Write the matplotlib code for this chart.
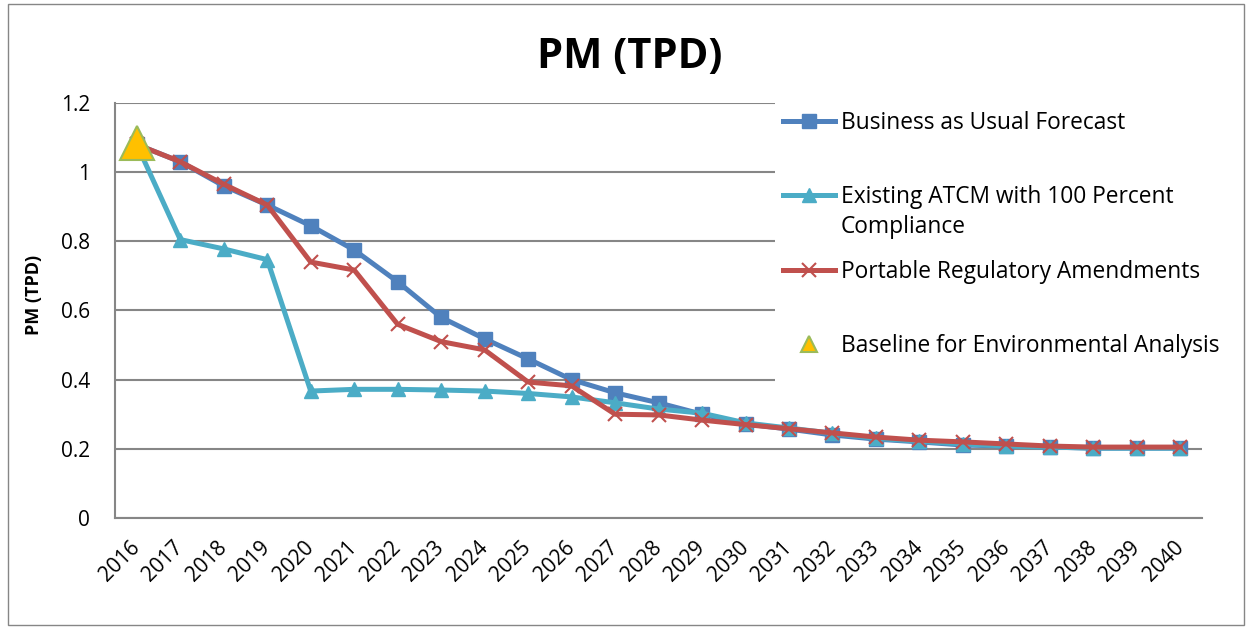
import matplotlib.pyplot as plt
from matplotlib.patches import Rectangle
import numpy as np

plt.rcParams['font.family'] = ['Open Sans', 'DejaVu Sans']

# --- Data ---
years = [str(y) for y in range(2016, 2041)]

bau = [1.08, 1.03, 0.96, 0.905, 0.845, 0.775, 0.683, 0.58, 0.518, 0.46,
       0.40, 0.362, 0.333, 0.30, 0.272, 0.257, 0.24, 0.228, 0.22, 0.211,
       0.208, 0.205, 0.202, 0.202, 0.202]
atcm = [1.08, 0.805, 0.778, 0.747, 0.367, 0.372, 0.372, 0.37, 0.367, 0.36,
        0.35, 0.333, 0.315, 0.303, 0.275, 0.26, 0.245, 0.23, 0.222, 0.214,
        0.208, 0.205, 0.202, 0.202, 0.202]
pra = [1.08, 1.03, 0.965, 0.905, 0.74, 0.717, 0.56, 0.51, 0.486, 0.393,
       0.382, 0.30, 0.298, 0.283, 0.27, 0.258, 0.246, 0.234, 0.225, 0.22,
       0.214, 0.208, 0.205, 0.205, 0.205]
baseline_year = '2016'
baseline_value = 1.085

labels = ['Business as Usual Forecast',
          'Existing ATCM with 100 Percent',
          'Portable Regulatory Amendments',
          'Baseline for Environmental Analysis']
label_wrap = 'Compliance'   # second line of the ATCM legend entry

x = np.arange(len(years))

fig = plt.figure(figsize=(12.52, 6.29), dpi=100)
ax = fig.add_axes([0.0919, 0.1765, 0.8682, 0.6598])

ax.plot(x, bau, color='#4F81BD', lw=3.6, marker='s', ms=10, label=labels[0], zorder=3)
ax.plot(x, atcm, color='#4BACC6', lw=3.6, marker='^', ms=10, label=labels[1], zorder=4)
ax.plot(x, pra, color='#C0504D', lw=3.6, marker='x', ms=10, mew=1.5, label=labels[2], zorder=5)
ax.plot([years.index(baseline_year)], [baseline_value], ls='none', marker='^', ms=24,
        mfc='#FFC000', mec='#9BBB59', mew=1.5, label=labels[3], zorder=6)

ax.set_xlim(-0.5, len(years) - 0.5)
ax.set_ylim(0, 1.2)
ax.set_yticks([0, 0.2, 0.4, 0.6, 0.8, 1.0, 1.2])
ax.set_yticklabels(['0', '0.2', '0.4', '0.6', '0.8', '1', '1.2'], fontsize=15)
ax.set_xticks(x)
ax.set_xticklabels(years, rotation=45, ha='right', va='center',
                   rotation_mode='anchor', fontsize=15)
ax.tick_params(axis='y', length=0, pad=18)
ax.tick_params(axis='x', length=0, pad=19)

ax.grid(axis='y', color='#868686', lw=1.5)
for s in ['top', 'right']:
    ax.spines[s].set_visible(False)
for s in ['left', 'bottom']:
    ax.spines[s].set_color('#868686')
    ax.spines[s].set_linewidth(1.5)

ax.set_ylabel('PM (TPD)', fontsize=13, fontweight='bold')
ax.yaxis.set_label_coords(-0.066, 0.537)

fig.text(0.503, 0.908, 'PM (TPD)', fontsize=30, fontweight='bold', ha='center', va='center')

# white area behind the legend hides the gridlines there
ax.add_patch(Rectangle((775 / 1252, 1 - 400 / 629), 470 / 1252, 305 / 629,
                       transform=fig.transFigure, facecolor='white', edgecolor='none',
                       clip_on=False, zorder=2))

leg = ax.legend(loc='upper left', bbox_to_anchor=(783 / 1252, 1 - 111 / 629),
                bbox_transform=fig.transFigure, frameon=False,
                fontsize=16.4, handlelength=2.3, labelspacing=2.21, borderpad=0,
                handletextpad=0.26, borderaxespad=0)
leg.legend_handles[3].set_markersize(12)
leg.set_zorder(10)
fig.text(841 / 1252, 1 - 227 / 629, label_wrap, fontsize=16.4, ha='left', va='center')

fig.add_artist(Rectangle((0.006, 0.006), 0.988, 0.988, transform=fig.transFigure,
                         fill=False, edgecolor='#868686', lw=1.0))

fig.savefig('out.png', dpi=100)
